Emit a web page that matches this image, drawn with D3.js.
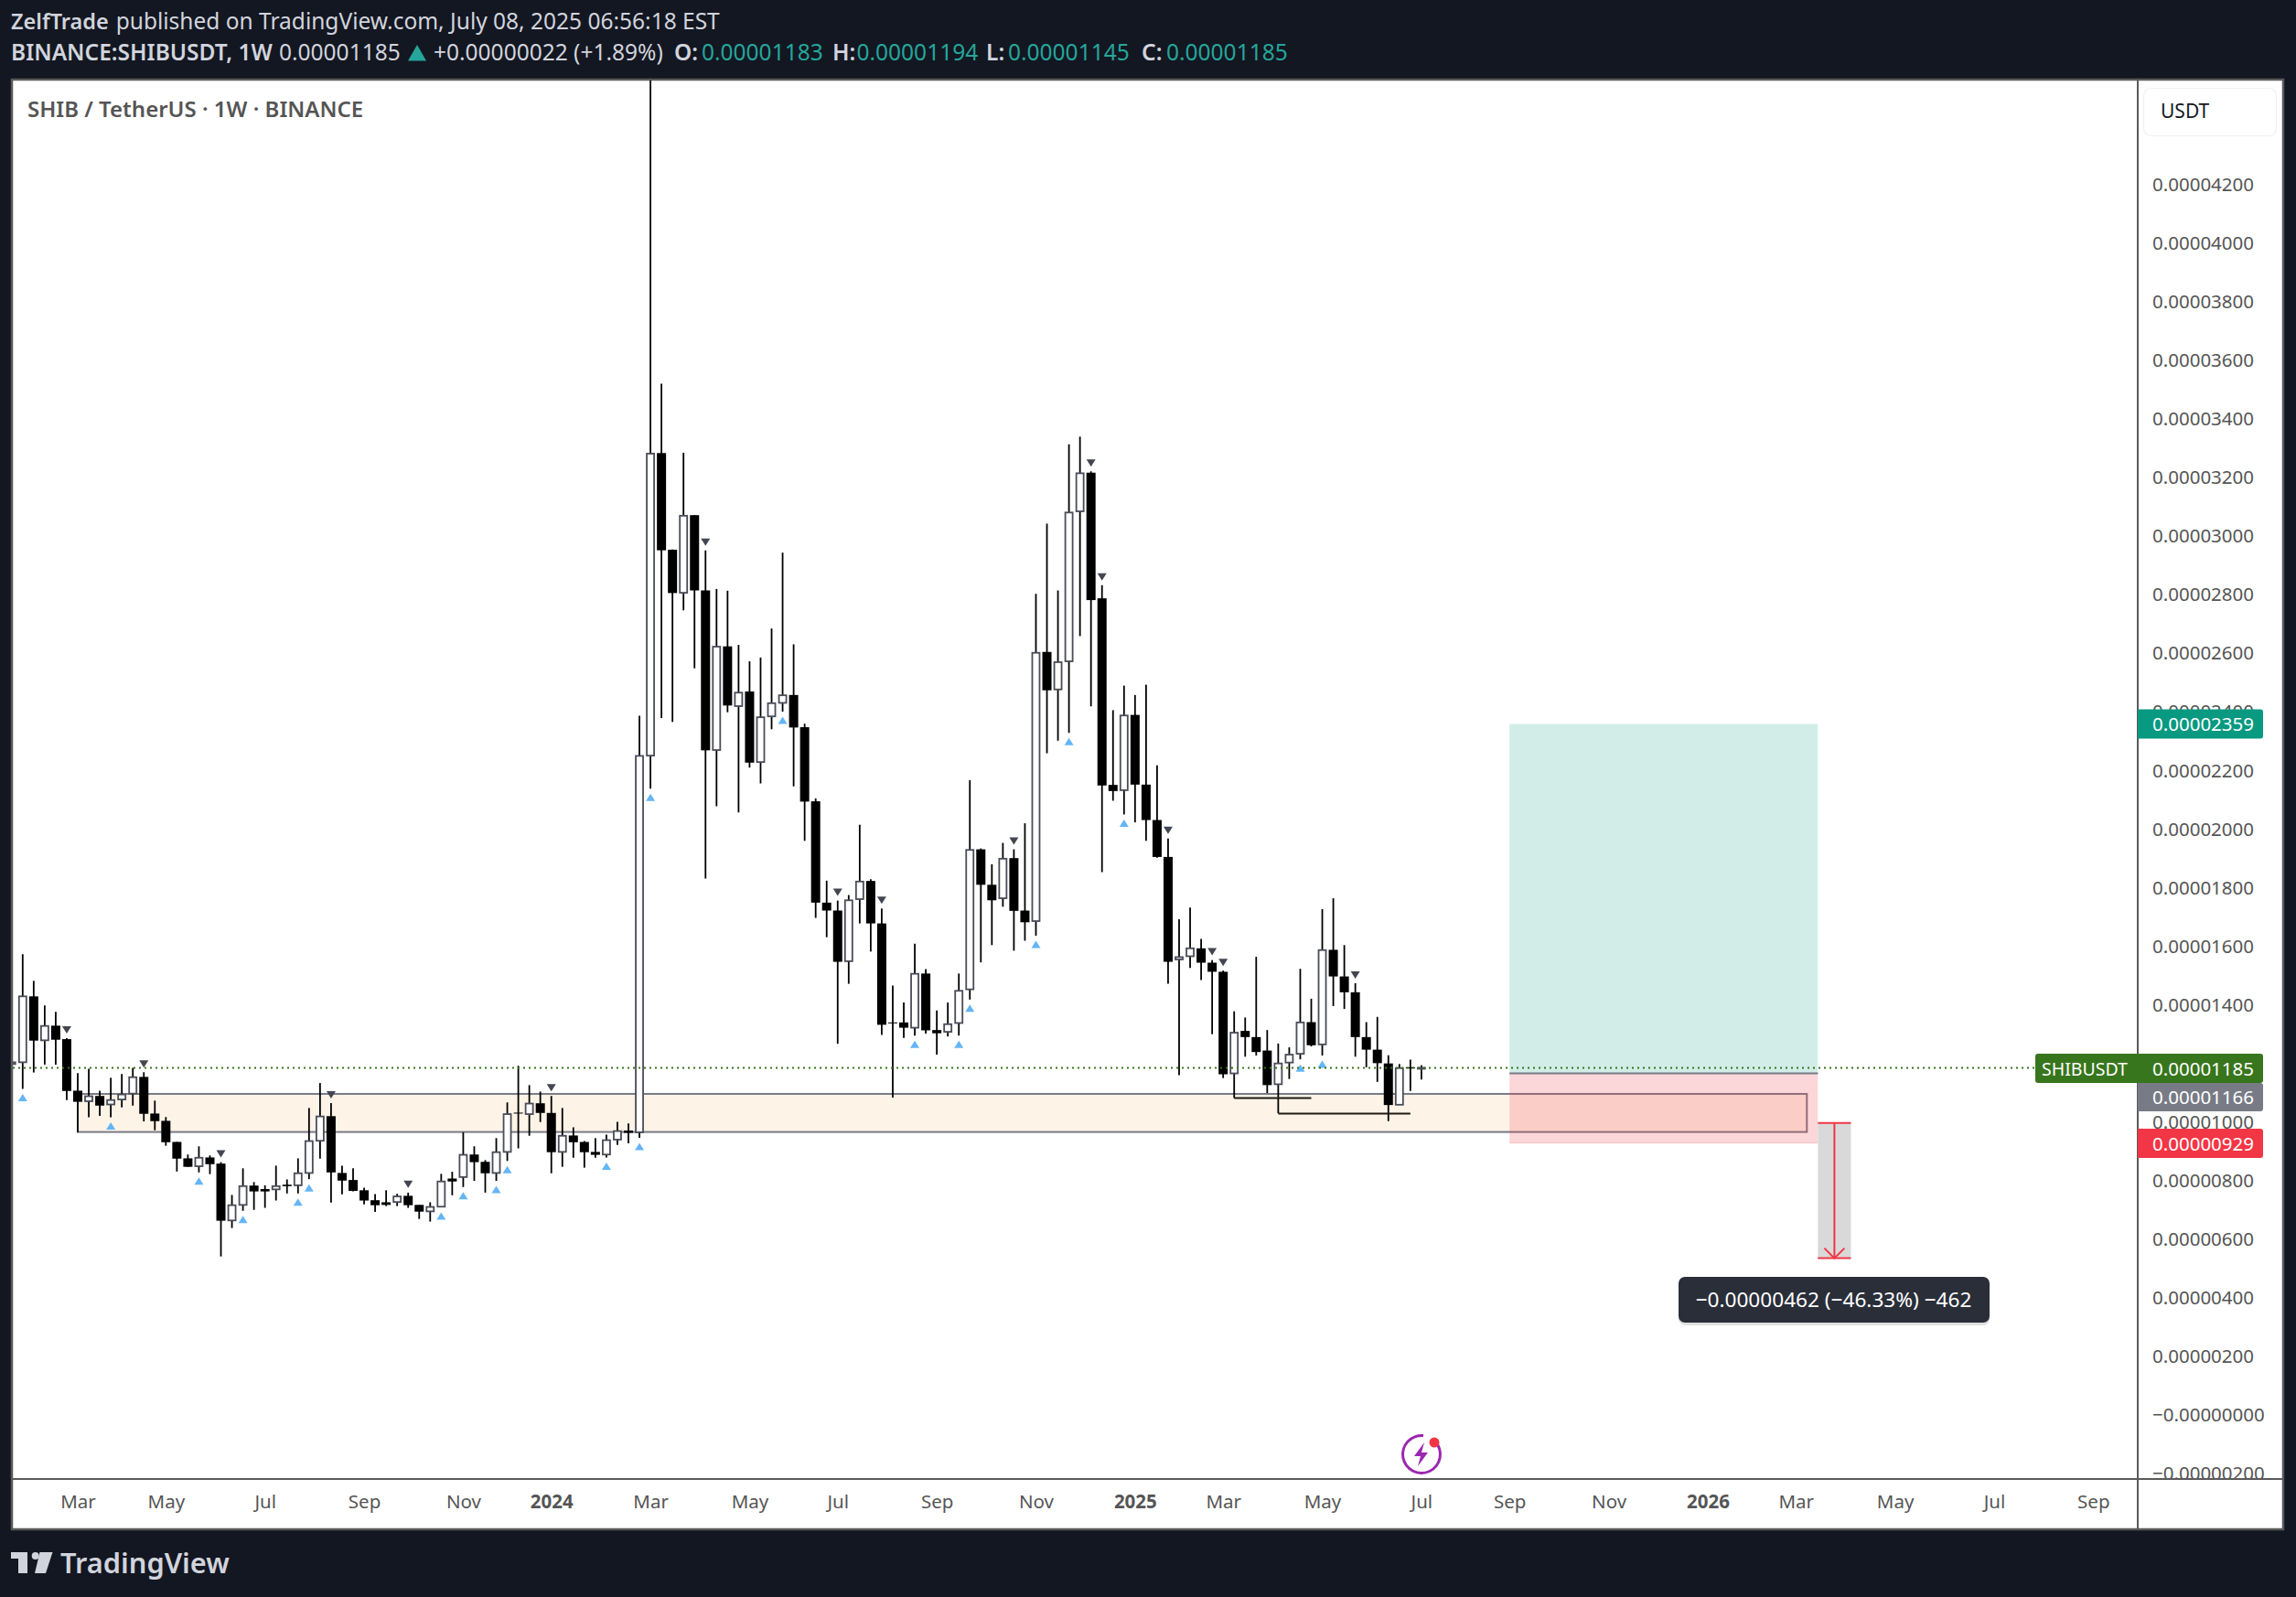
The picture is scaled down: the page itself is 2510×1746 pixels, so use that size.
<!DOCTYPE html>
<html>
<head>
<meta charset="utf-8">
<script src="https://cdn.jsdelivr.net/npm/d3@7"></script>
<style>
  html, body { margin: 0; padding: 0; background: #131722; }
  svg { display: block; }
  text { font-family: "Noto Sans", "Open Sans", sans-serif; }
</style>
</head>
<body>
<svg id="chart" width="2510" height="1746"></svg>
<script>
// Prices are kept in units of 0.00000001 USDT, week 0 is 2023-01-30
const PIP = 1e-8;

const opens = [1198,
  1204,1429,1279,1329,1283,1107,1071,1089,1060,1077,
  1097,1154,1029,1004,932,876,849,879,858,664,
  717,783,771,770,786,784,826,936,1020,826,
  802,767,733,726,727,748,717,695,711,807,
  812,889,864,826,898,1032,1027,1064,1031,898,
  954,932,898,889,940,971,965,2251,3284,2954,
  2807,3072,2815,2270,2624,2420,2470,2229,2385,2431,
  2458,2348,2095,1749,1722,1549,1761,1823,1678,1340,
  1340,1322,1507,1314,1308,1338,1453,1931,1810,1764,
  1901,1722,1686,2605,2477,2573,3085,3217,2788,2151,
  2133,2390,2152,2031,1905,1555,1566,1593,1544,1513,
  1166,1311,1290,1244,1129,1203,1233,1341,1265,1588,
  1497,1443,1290,1247,1200,1059,1187,1183];

const highs = [1204,
  1573,1482,1398,1376,1286,1167,1182,1107,1151,1164,
  1185,1170,1073,1017,932,889,917,886,863,751,
  842,795,784,851,804,876,1048,1133,1065,851,
  842,776,754,767,755,759,717,726,823,830,
  965,917,870,945,1067,1192,1126,1104,1089,1048,
  982,935,945,957,1001,995,2387,4800,3521,2955,
  3285,3072,2952,2820,2814,2629,2573,2586,2685,2944,
  2631,2360,2105,1824,1756,1775,2015,1829,1729,1466,
  1408,1609,1522,1381,1408,1507,2167,1934,1880,1953,
  1931,2020,2803,3043,2815,3314,3340,3222,2833,2406,
  2490,2458,2493,2218,1968,1692,1732,1625,1553,1517,
  1378,1357,1564,1314,1268,1255,1523,1421,1727,1764,
  1604,1474,1341,1359,1228,1198,1213,1194];

const lows = [1198,
  1113,1169,1196,1196,1075,965,1016,1021,1016,1050,
  1056,1002,972,919,831,846,828,822,541,638,
  697,700,707,732,756,756,805,875,725,753,
  763,719,693,713,713,707,669,660,709,750,
  778,799,759,799,867,910,953,1000,825,847,
  878,844,878,879,922,927,946,2138,2379,2366,
  2747,2549,1831,2078,2399,2057,2210,2156,2341,2401,
  2146,1960,1697,1631,1267,1472,1678,1582,1297,1083,
  1287,1295,1302,1230,1292,1295,1418,1545,1604,1735,
  1585,1619,1636,2259,2302,2329,2659,2419,1853,2097,
  2050,2023,1960,1902,1472,1160,1526,1485,1300,1150,
  1082,1223,1227,1099,1030,1147,1214,1258,1227,1396,
  1386,1223,1187,1137,1003,1058,1106,1145];

const closes = [1204,
  1429,1278,1328,1281,1106,1069,1088,1056,1075,1094,
  1153,1028,1003,931,875,847,878,856,663,716,
  781,763,763,781,781,825,935,1019,828,800,
  765,732,716,717,746,716,694,710,797,797,
  888,863,825,897,1027,1029,1063,1031,897,953,
  931,897,888,938,969,963,2250,3282,2952,2806,
  3070,2815,2269,2623,2422,2466,2227,2382,2430,2457,
  2347,2094,1749,1722,1547,1757,1821,1678,1332,1337,
  1322,1506,1313,1303,1334,1448,1929,1810,1757,1899,
  1721,1682,2602,2474,2570,3081,3215,2782,2149,2130,
  2388,2152,2031,1905,1547,1563,1593,1544,1513,1163,
  1305,1290,1239,1126,1200,1230,1340,1262,1587,1497,
  1443,1290,1247,1201,1058,1184,1183,1185];

// Signal markers, as week numbers
const upSignals = [0,8,16,20,25,26,38,40,43,44,53,56,57,69,81,85,86,92,95,100,116,118];
const downSignals = [4,11,18,28,35,48,62,74,78,90,97,98,104,108,109,121];

// Axis ticks
const yTicks = [4200,4000,3800,3600,3400,3200,3000,2800,2600,2400,2200,2000,1800,1600,1400,1000,800,600,400,200,0,-200];
const xTickWeeks = [5,13,22,31,40,48,57,66,74,83,92,101,109,118,127,135,144,153,161,170,179,188];
const xTickLabels = ['Mar','May','Jul','Sep','Nov','2024','Mar','May','Jul','Sep','Nov','2025','Mar','May','Jul','Sep','Nov','2026','Mar','May','Jul','Sep'];

// Drawing tools
const lastPrice = 1185;
const zone = { startWeek: 5, endWeek: 162, top: 1096, bottom: 966 };
const position = { startWeek: 135, endWeek: 163, target: 2359, entry: 1166, stop: 929 };
const measure = { startWeek: 163, endWeek: 166, from: 997, to: 535 };
const supportLevels = [
  { startWeek: 110, endWeek: 117, level: 1082 },
  { startWeek: 114, endWeek: 126, level: 1029 }
];

const candles = opens.map((o, i) => ({
  week: i - 1, open: o, high: highs[i], low: lows[i], close: closes[i]
}));

const plot = { left: 14, right: 2336, top: 88, bottom: 1616 };

// Scales, 12.04px per week and 64px per 200 units
const x = d3.scaleLinear().domain([-0.897, 191.96]).range([plot.left, plot.right]);
const y = d3.scaleLinear().domain([1000, 4200]).range([1226.7, 202]);

const svg = d3.select('#chart');
const ink = '#000000';
const hollowEdge = '#4a4c58';
const borderColor = '#5a5a5a';

// Frame
svg.append('rect').attr('width', 2510).attr('height', 1746).attr('fill', '#131722');
svg.append('rect').attr('x', 13).attr('y', 87).attr('width', 2483).attr('height', 1585)
  .attr('fill', '#ffffff').attr('stroke', borderColor).attr('stroke-width', 2.5);

svg.append('clipPath').attr('id', 'plotClip').append('rect')
  .attr('x', plot.left).attr('y', plot.top)
  .attr('width', plot.right - plot.left).attr('height', plot.bottom - plot.top);
svg.append('clipPath').attr('id', 'priceClip').append('rect')
  .attr('x', 2338).attr('y', plot.top).attr('width', 158).attr('height', plot.bottom - plot.top);

const chart = svg.append('g').attr('clip-path', 'url(#plotClip)');

// Support zone sits behind the candles
chart.append('rect')
  .attr('x', x(zone.startWeek)).attr('y', y(zone.top))
  .attr('width', x(zone.endWeek) - x(zone.startWeek)).attr('height', y(zone.bottom) - y(zone.top))
  .attr('fill', '#fdf4e7').attr('stroke', '#787b86').attr('stroke-width', 2);

// Wicks
chart.append('g').selectAll('line').data(candles).join('line')
  .attr('x1', d => x(d.week)).attr('x2', d => x(d.week))
  .attr('y1', d => y(d.high)).attr('y2', d => y(d.low))
  .attr('stroke', ink).attr('stroke-width', 1.8);

// Bodies: black when down, hollow when up
chart.append('g').selectAll('rect').data(candles).join('rect')
  .attr('x', d => x(d.week) - (d.close >= d.open ? 4 : 5))
  .attr('width', d => d.close >= d.open ? 8 : 10)
  .attr('y', d => y(Math.max(d.open, d.close)))
  .attr('height', d => Math.max(1, Math.abs(y(d.open) - y(d.close))))
  .attr('fill', d => d.close >= d.open ? '#ffffff' : ink)
  .attr('stroke', d => d.close >= d.open ? hollowEdge : 'none')
  .attr('stroke-width', 1.8);

// Signal triangles
chart.append('g').selectAll('path').data(upSignals).join('path')
  .attr('d', 'M-5,4L5,4L0,-4Z')
  .attr('transform', w => `translate(${x(w)},${y(candles[w + 1].low) + 9.5})`)
  .attr('fill', '#64b5f6');
chart.append('g').selectAll('path').data(downSignals).join('path')
  .attr('d', 'M-5,-4L5,-4L0,4Z')
  .attr('transform', w => `translate(${x(w)},${y(candles[w + 1].high) - 9})`)
  .attr('fill', '#434651');

// Two hand drawn support lines
chart.append('g').selectAll('line').data(supportLevels).join('line')
  .attr('x1', d => x(d.startWeek)).attr('x2', d => x(d.endWeek))
  .attr('y1', d => y(d.level)).attr('y2', d => y(d.level))
  .attr('stroke', '#1e1a14').attr('stroke-width', 2);

// Short position tool
const posX = x(position.startWeek);
const posW = x(position.endWeek) - posX;
chart.append('rect').attr('x', posX).attr('width', posW)
  .attr('y', y(position.target)).attr('height', y(position.entry) - y(position.target))
  .attr('fill', '#089981').attr('fill-opacity', 0.18);
chart.append('rect').attr('x', posX).attr('width', posW)
  .attr('y', y(position.entry)).attr('height', y(position.stop) - y(position.entry))
  .attr('fill', '#f23645').attr('fill-opacity', 0.2);
chart.append('line').attr('x1', posX).attr('x2', posX + posW)
  .attr('y1', y(position.entry)).attr('y2', y(position.entry))
  .attr('stroke', '#787b86').attr('stroke-width', 2);
chart.append('line').attr('x1', posX).attr('x2', posX + posW)
  .attr('y1', y(position.stop)).attr('y2', y(position.stop))
  .attr('stroke', '#f23645').attr('stroke-opacity', 0.2).attr('stroke-width', 1.5);

// Measure tool with its arrow
const mLeft = x(measure.startWeek);
const mRight = x(measure.endWeek);
const mMid = x((measure.startWeek + measure.endWeek) / 2);
chart.append('rect').attr('x', mLeft).attr('width', mRight - mLeft)
  .attr('y', y(measure.from)).attr('height', y(measure.to) - y(measure.from))
  .attr('fill', '#d9d9d9');
[measure.from, measure.to].forEach(v => {
  chart.append('line').attr('x1', mLeft).attr('x2', mRight)
    .attr('y1', y(v)).attr('y2', y(v))
    .attr('stroke', '#f23645').attr('stroke-width', 2);
});
chart.append('line').attr('x1', mMid).attr('x2', mMid)
  .attr('y1', y(measure.from)).attr('y2', y(measure.to))
  .attr('stroke', '#f23645').attr('stroke-width', 2);
chart.append('path')
  .attr('d', `M${mMid - 11},${y(measure.to) - 11}L${mMid},${y(measure.to)}L${mMid + 11},${y(measure.to) - 11}`)
  .attr('fill', 'none').attr('stroke', '#f23645').attr('stroke-width', 2);

// Last price dotted line
chart.append('line').attr('x1', plot.left).attr('x2', 2225)
  .attr('y1', y(lastPrice)).attr('y2', y(lastPrice))
  .attr('stroke', '#38761d').attr('stroke-width', 2).attr('stroke-dasharray', '2 4');

// Measure label
svg.append('rect').attr('x', 1835).attr('y', 1396).attr('width', 340).attr('height', 50).attr('rx', 7)
  .attr('fill', '#000000').attr('fill-opacity', 0.12).attr('transform', 'translate(0,3)');
svg.append('rect').attr('x', 1835).attr('y', 1396).attr('width', 340).attr('height', 50).attr('rx', 7)
  .attr('fill', '#2a2e39');
svg.append('text').attr('x', 2004.5).attr('y', 1429).attr('text-anchor', 'middle')
  .attr('fill', '#ffffff').attr('font-size', 22.6)
  .text(`\u2212${((measure.from - measure.to) * PIP).toFixed(8)} (\u221246.33%) \u2212${measure.from - measure.to}`);

// Price axis, region is closed by the time axis border below
const priceFormat = v => (v <= 0 ? '\u2212' : '') + (Math.abs(v) * PIP).toFixed(8);
const priceAxis = svg.append('g').attr('clip-path', 'url(#priceClip)').append('g')
  .attr('transform', 'translate(2337,0)')
  .call(d3.axisRight(y).tickValues(yTicks).tickSize(0).tickPadding(16).tickFormat(priceFormat));
priceAxis.select('.domain').remove();
priceAxis.selectAll('text').attr('fill', '#555555').attr('font-size', 20.5)
  .attr('font-family', '"Noto Sans", "Open Sans", sans-serif');

// Time axis
const timeAxis = svg.append('g').attr('transform', 'translate(0,1618)')
  .call(d3.axisBottom(x).tickValues(xTickWeeks).tickSize(0).tickPadding(16)
    .tickFormat((w, i) => xTickLabels[i]));
timeAxis.select('.domain').remove();
timeAxis.selectAll('text').attr('fill', '#555555').attr('font-size', 20.5)
  .attr('font-family', '"Noto Sans", "Open Sans", sans-serif')
  .attr('font-weight', (w, i) => /^\d/.test(xTickLabels[i]) ? 700 : 400);

// Axis separators
svg.append('line').attr('x1', 14).attr('x2', 2496).attr('y1', 1617).attr('y2', 1617)
  .attr('stroke', borderColor).attr('stroke-width', 2);
svg.append('line').attr('x1', 2337).attr('x2', 2337).attr('y1', 88).attr('y2', 1672)
  .attr('stroke', borderColor).attr('stroke-width', 2);

// Currency button
svg.append('rect').attr('x', 2343.5).attr('y', 96.5).attr('width', 145).attr('height', 52).attr('rx', 8)
  .attr('fill', '#ffffff').attr('stroke', '#f0f0f0').attr('stroke-width', 1.2);
svg.append('text').attr('x', 2362).attr('y', 129).attr('fill', '#131722').attr('font-size', 21).text('USDT');

// Price tags on the right
const priceTag = (v, top, height, fill) => {
  svg.append('path')
    .attr('d', `M2337,${top}H2471a3,3 0 0 1 3,3V${top + height - 3}a3,3 0 0 1 -3,3H2337Z`)
    .attr('fill', fill);
  svg.append('text').attr('x', 2353).attr('y', top + height / 2 + 7.5)
    .attr('fill', '#ffffff').attr('font-size', 20.5).text((v * PIP).toFixed(8));
};
priceTag(position.target, y(position.target) - 16, 32, '#089981');
priceTag(lastPrice, 1152, 32, '#38761d');
priceTag(position.entry, 1184, 31, '#787b86');
priceTag(position.stop, 1234, 32, '#f23645');
svg.append('path').attr('d', 'M2337,1152H2228a3,3 0 0 0 -3,3V1181a3,3 0 0 0 3,3H2337Z').attr('fill', '#38761d');
svg.append('text').attr('x', 2232).attr('y', 1175.5).attr('fill', '#ffffff').attr('font-size', 19.5).text('SHIBUSDT');

// Chart title
svg.append('text').attr('x', 30).attr('y', 128).attr('fill', '#555555')
  .attr('font-size', 24).attr('font-weight', 600).text('SHIB / TetherUS \u00b7 1W \u00b7 BINANCE');

// Header lines
const headerSize = 24.5;
const header1 = svg.append('text').attr('x', 12).attr('y', 32).attr('fill', '#d1d4dc').attr('font-size', headerSize);
header1.append('tspan').attr('font-weight', 600).attr('font-size', 23.5).text('ZelfTrade');
header1.append('tspan').attr('x', 126.7).text('published on TradingView.com, July 08, 2025 06:56:18 EST');

const headerFill = '#d1d4dc';
const teal = '#26a69a';
const header2 = [
  { x: 12, t: 'BINANCE:SHIBUSDT, 1W', w: 600, c: headerFill },
  { x: 305, t: '0.00001185', w: 400, c: headerFill },
  { x: 474, t: '+0.00000022 (+1.89%)', w: 400, c: headerFill },
  { x: 737, t: 'O:', w: 600, c: headerFill },
  { x: 767, t: '0.00001183', w: 400, c: teal },
  { x: 910, t: 'H:', w: 600, c: headerFill },
  { x: 936.5, t: '0.00001194', w: 400, c: teal },
  { x: 1078, t: 'L:', w: 600, c: headerFill },
  { x: 1102, t: '0.00001145', w: 400, c: teal },
  { x: 1248, t: 'C:', w: 600, c: headerFill },
  { x: 1275, t: '0.00001185', w: 400, c: teal }
];
svg.append('g').selectAll('text').data(header2).join('text')
  .attr('x', d => d.x).attr('y', 66).attr('font-size', headerSize)
  .attr('font-weight', d => d.w).attr('fill', d => d.c).text(d => d.t);
svg.append('path').attr('d', 'M446,66.5L466,66.5L456,49Z').attr('fill', teal);

// Lightning badge near the time axis
svg.append('path').attr('d', d3.arc()({ innerRadius: 19, outerRadius: 22, startAngle: 0.85, endAngle: 2 * Math.PI + 0.1 }))
  .attr('transform', 'translate(1554,1590)').attr('fill', '#9c27b0');
svg.append('path').attr('d', 'M1557,1577L1546,1592L1553,1592L1550,1603L1561,1588L1554,1588Z').attr('fill', '#9c27b0');
svg.append('circle').attr('cx', 1568).attr('cy', 1577).attr('r', 5.5).attr('fill', '#f23645');

// TradingView logo
svg.append('path').attr('d', 'M12,1697H30V1720H20V1704H12Z').attr('fill', headerFill);
svg.append('circle').attr('cx', 38.7).attr('cy', 1701).attr('r', 4).attr('fill', headerFill);
svg.append('path').attr('d', 'M43.5,1697H57.5L50,1720H38Z').attr('fill', headerFill);
svg.append('text').attr('x', 66).attr('y', 1720).attr('fill', headerFill)
  .attr('font-family', 'Inter, sans-serif').attr('font-size', 30.8).attr('font-weight', 600).text('TradingView');
</script>
</body>
</html>
